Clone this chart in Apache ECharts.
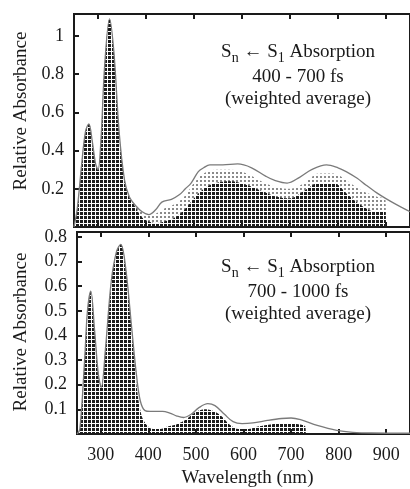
<!DOCTYPE html>
<html>
<head>
<meta charset="utf-8">
<script src="https://cdn.jsdelivr.net/npm/echarts@6/dist/echarts.min.js"></script>
<style>
html, body { margin: 0; padding: 0; background: #fff; }
#chart { width: 410px; height: 489px; }
</style>
</head>
<body>
<div id="chart"></div>
<script>
// upper panel: 400 - 700 fs
var topWl = [250, 257, 266, 274, 281, 288, 295, 300, 306, 314, 324, 333, 344, 355, 365, 379, 392, 406, 420, 433, 453, 470, 482, 494, 509, 520, 533, 560, 591, 620, 650, 667, 694, 720, 745, 776, 800, 817, 840, 858, 880, 899, 920, 950];
var topCurve = [0, 0.1, 0.33, 0.5, 0.54, 0.45, 0.33, 0.3, 0.45, 0.85, 1.09, 0.92, 0.5, 0.25, 0.16, 0.11, 0.08, 0.065, 0.09, 0.13, 0.145, 0.17, 0.2, 0.23, 0.29, 0.31, 0.325, 0.325, 0.33, 0.31, 0.265, 0.245, 0.23, 0.26, 0.3, 0.325, 0.31, 0.29, 0.255, 0.22, 0.18, 0.15, 0.12, 0.08];
var topDotWl = [250, 257, 266, 274, 281, 288, 295, 300, 306, 314, 324, 333, 344, 355, 365, 379, 392, 405, 420, 440, 460, 480, 500, 520, 545, 575, 610, 640, 670, 700, 730, 760, 790, 820, 850, 880, 899, 900];
var topDense = [0, 0.1, 0.33, 0.5, 0.54, 0.45, 0.33, 0.3, 0.45, 0.85, 1.09, 0.92, 0.5, 0.25, 0.16, 0.1, 0.05, 0.03, 0.02, 0.03, 0.05, 0.09, 0.15, 0.2, 0.23, 0.24, 0.22, 0.19, 0.16, 0.15, 0.19, 0.23, 0.23, 0.17, 0.11, 0.08, 0.08, 0];
var topSparse = [0, 0, 0, 0, 0, 0, 0, 0, 0, 0, 0, 0, 0, 0, 0.15, 0.11, 0.08, 0.06, 0.07, 0.1, 0.12, 0.16, 0.23, 0.28, 0.3, 0.3, 0.28, 0.24, 0.21, 0.2, 0.23, 0.28, 0.28, 0.24, 0.19, 0.16, 0.14, 0];

// lower panel: 700 - 1000 fs
var botWl = [250, 256, 266, 272, 279, 287, 295, 301, 310, 322, 333, 342, 352, 365, 375, 383, 393, 404, 430, 445, 460, 474, 490, 505, 525, 540, 560, 578, 597, 620, 650, 680, 700, 720, 755, 796, 830, 870, 950];
var botCurve = [0, 0.02, 0.3, 0.5, 0.58, 0.42, 0.24, 0.19, 0.35, 0.62, 0.74, 0.77, 0.68, 0.43, 0.24, 0.135, 0.095, 0.092, 0.092, 0.085, 0.073, 0.067, 0.08, 0.105, 0.123, 0.115, 0.08, 0.05, 0.042, 0.045, 0.055, 0.063, 0.065, 0.058, 0.035, 0.015, 0.007, 0.004, 0.003];
var botDotWl = [250, 256, 266, 272, 279, 287, 295, 301, 310, 322, 333, 342, 352, 365, 375, 385, 395, 410, 425, 440, 460, 480, 500, 520, 540, 555, 570, 590, 610, 630, 660, 690, 715, 730, 731];
var botDense = [0, 0.02, 0.3, 0.5, 0.58, 0.42, 0.24, 0.19, 0.35, 0.62, 0.74, 0.77, 0.68, 0.43, 0.2, 0.08, 0.04, 0.02, 0.02, 0.03, 0.04, 0.06, 0.09, 0.1, 0.09, 0.07, 0.04, 0.02, 0.02, 0.03, 0.04, 0.045, 0.04, 0.03, 0];

var serif = '"Liberation Serif", "DejaVu Serif", serif';
var ink = '#1a1a1a';

function pairs(xs, ys) {
    var res = [];
    for (var i = 0; i < xs.length; i++) {
        res.push([xs[i], ys[i]]);
    }
    return res;
}

// halftone dot fills
function dotPattern(size, dot, color) {
    var c = document.createElement('canvas');
    c.width = size;
    c.height = size;
    var ctx = c.getContext('2d');
    ctx.fillStyle = color;
    ctx.fillRect(0, 0, dot, dot);
    return { image: c, repeat: 'repeat' };
}
var densePat = dotPattern(4, 3, '#1c1c1c');
var sparsePat = dotPattern(4, 2, '#8a8a8a');

function xAx(grid, pos, labels) {
    return {
        type: 'value', gridIndex: grid, position: pos,
        min: 250, max: 950, minInterval: 100, maxInterval: 100,
        axisLine: { show: true, lineStyle: { color: ink, width: 2 } },
        axisTick: { inside: true, length: 5, lineStyle: { color: ink, width: 2 } },
        axisLabel: {
            show: labels, showMinLabel: false, showMaxLabel: false, margin: 12,
            color: ink, fontFamily: serif, fontSize: 18
        },
        splitLine: { show: false },
        name: labels ? 'Wavelength (nm)' : '',
        nameLocation: 'middle', nameGap: 35,
        nameTextStyle: { color: ink, fontFamily: serif, fontSize: 19, padding: [0, 0, 0, 8] }
    };
}

function yAx(grid, max, interval, fmt) {
    return {
        type: 'value', gridIndex: grid, min: 0, max: max, interval: interval,
        axisLine: { show: true, lineStyle: { color: ink, width: 2 } },
        axisTick: { inside: true, length: 5, lineStyle: { color: ink, width: 2 } },
        axisLabel: {
            margin: 10, color: ink, fontFamily: serif, fontSize: 18,
            showMaxLabel: false, formatter: fmt
        },
        splitLine: { show: false }
    };
}

function fillSeries(x, y, data, pat) {
    return {
        type: 'line', xAxisIndex: x, yAxisIndex: y, data: data,
        smooth: 0.35, showSymbol: false, silent: true,
        lineStyle: { width: 0 },
        areaStyle: { color: pat, opacity: 1 }
    };
}

function curveSeries(x, y, data) {
    return {
        type: 'line', xAxisIndex: x, yAxisIndex: y, data: data,
        smooth: 0.35, showSymbol: false, silent: true,
        lineStyle: { color: '#7a7a7a', width: 1.3 }
    };
}

function label3(cx, y0, mid) {
    var base = { fontFamily: serif, fontSize: 19, fill: ink, align: 'center', verticalAlign: 'middle' };
    return [
        {
            type: 'text', x: cx, y: y0,
            style: {
                text: '{m|S}{s|n}{m| \u2190 S}{s|1}{m| Absorption}',
                fontFamily: serif, fontSize: 19, fill: ink, align: 'center', verticalAlign: 'middle',
                rich: {
                    m: { fontFamily: serif, fontSize: 19, fill: ink, verticalAlign: 'bottom', padding: [0, 0, 4, 0] },
                    s: { fontFamily: serif, fontSize: 14, fill: ink, verticalAlign: 'bottom' }
                }
            }
        },
        { type: 'text', x: cx, y: y0 + 23, style: Object.assign({ text: mid }, base) },
        { type: 'text', x: cx, y: y0 + 45, style: Object.assign({ text: '(weighted average)' }, base) }
    ];
}

var chart = echarts.init(document.getElementById('chart'));

var option = {
    backgroundColor: '#fff',
    animation: false,
    grid: [
        { left: 74, top: 14, width: 341, height: 213, show: true, borderColor: ink, borderWidth: 2 },
        { left: 77, top: 232, width: 341, height: 212, show: true, borderColor: ink, borderWidth: 2 }
    ],
    xAxis: [xAx(0, 'bottom', false), xAx(0, 'top', false), xAx(1, 'bottom', true), xAx(1, 'top', false)],
    yAxis: [
        yAx(0, 1.115, 0.2, function (v) {
            if (v < 0.01) return '';
            return Math.abs(v - 1) < 0.01 ? '1' : v.toFixed(1);
        }),
        yAx(1, 0.82, 0.1, function (v) {
            return v < 0.01 ? '' : v.toFixed(1);
        })
    ],
    series: [
        fillSeries(0, 0, pairs(topDotWl, topSparse), sparsePat),
        fillSeries(0, 0, pairs(topDotWl, topDense), densePat),
        curveSeries(0, 0, pairs(topWl, topCurve)),
        fillSeries(2, 1, pairs(botDotWl, botDense), densePat),
        curveSeries(2, 1, pairs(botWl, botCurve))
    ],
    graphic: [
        {
            type: 'text', x: 21, y: 111, rotation: Math.PI / 2,
            style: { text: 'Relative Absorbance', fontFamily: serif, fontSize: 19, fill: ink, align: 'center', verticalAlign: 'middle' }
        },
        {
            type: 'text', x: 21, y: 332, rotation: Math.PI / 2,
            style: { text: 'Relative Absorbance', fontFamily: serif, fontSize: 19, fill: ink, align: 'center', verticalAlign: 'middle' }
        }
    ].concat(label3(298, 54, '400 - 700 fs'), label3(298, 269, '700 - 1000 fs'))
};

chart.setOption(option);
</script>
</body>
</html>
